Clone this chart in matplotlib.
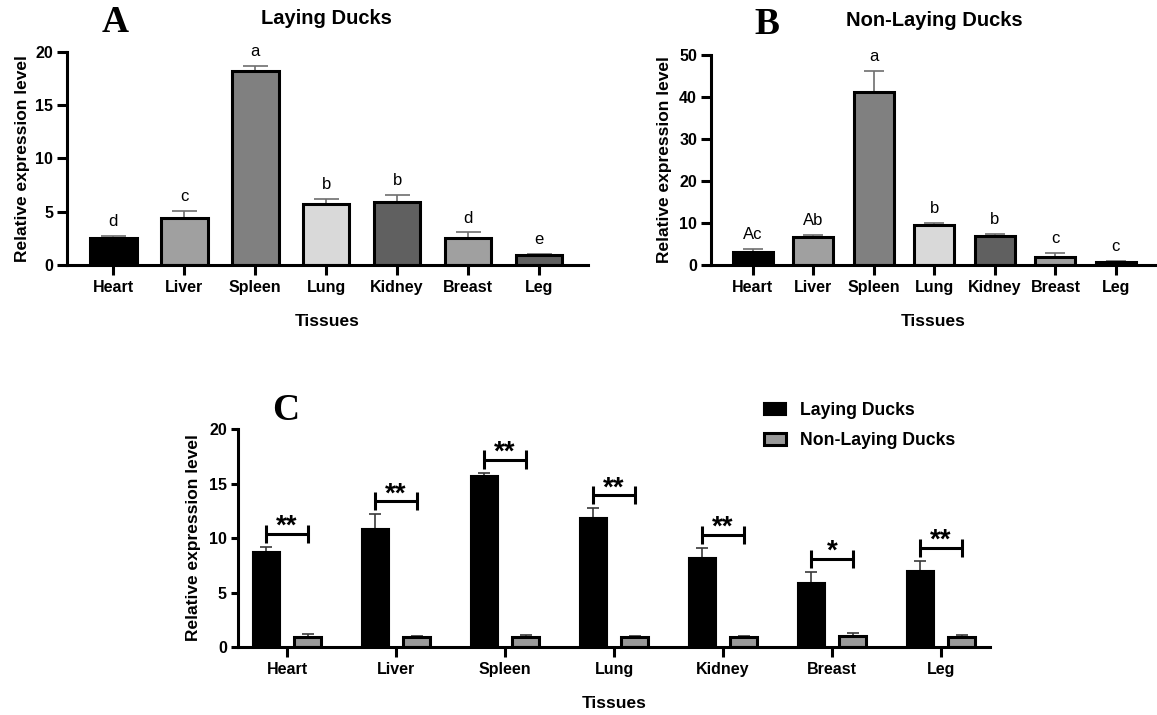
import numpy as np
import matplotlib
matplotlib.use("Agg")
import matplotlib.pyplot as plt
from matplotlib.patches import Patch

# Data
tissues = ["Heart", "Liver", "Spleen", "Lung", "Kidney", "Breast", "Leg"]

laying_mean = [2.57, 4.40, 18.25, 5.70, 5.90, 2.55, 0.90]
laying_sd = [0.15, 0.65, 0.40, 0.50, 0.65, 0.50, 0.17]
laying_letters = ["d", "c", "a", "b", "b", "d", "e"]

nonlaying_mean = [3.15, 6.65, 41.10, 9.45, 6.80, 1.90, 0.65]
nonlaying_sd = [0.65, 0.55, 5.10, 0.55, 0.55, 0.85, 0.30]
nonlaying_letters = ["Ac", "Ab", "a", "b", "b", "c", "c"]

comp_laying_mean = [8.76, 10.81, 15.66, 11.82, 8.18, 5.83, 6.93]
comp_laying_sd = [0.40, 1.37, 0.34, 0.91, 0.89, 1.04, 0.97]
comp_nonlaying_mean = [0.95, 0.95, 0.95, 0.95, 0.92, 0.98, 0.92]
comp_nonlaying_sd = [0.22, 0.06, 0.16, 0.06, 0.12, 0.33, 0.18]
significance = ["**", "**", "**", "**", "**", "*", "**"]

bar_colors = ["#000000", "#a0a0a0", "#808080", "#d9d9d9", "#606060", "#a0a0a0", "#606060"]
bar_colors_b = ["#000000", "#a0a0a0", "#808080", "#d9d9d9", "#606060", "#a0a0a0", "#1a1a1a"]

SANS = "Liberation Sans"
SERIF = "Liberation Serif"
plt.rcParams["font.family"] = [SANS, "DejaVu Sans"]
plt.rcParams["font.weight"] = "bold"

LW = 2.2


def style_axes(ax, yticks, ylim, xlim, ytick_len, labelpad_y):
    for side in ["top", "right"]:
        ax.spines[side].set_visible(False)
    for side in ["left", "bottom"]:
        ax.spines[side].set_linewidth(LW)
    ax.set_xlim(*xlim)
    ax.set_ylim(*ylim)
    ax.set_yticks(yticks)
    ax.set_xticks(np.arange(len(tissues)))
    ax.set_xticklabels(tissues, fontsize=11.5, fontweight="bold")
    ax.tick_params(axis="x", length=7.5, width=LW, pad=3)
    ax.tick_params(axis="y", length=ytick_len, width=LW, pad=3, labelsize=11.5)
    for lab in ax.get_yticklabels():
        lab.set_fontweight("bold")
    ax.set_ylabel("Relative expression level", fontsize=12.5, fontweight="bold",
                  labelpad=labelpad_y)
    ax.set_xlabel("Tissues", fontsize=12.5, fontweight="bold", labelpad=14)


def tissue_panel(ax, means, sds, letters, colors, yticks, ylim, xlim, capsize, labelpad_y):
    x = np.arange(len(tissues))
    ax.errorbar(x, means, yerr=[np.zeros(len(sds)), sds], fmt="none",
                ecolor="#6e6e6e", elinewidth=1.2, capsize=capsize, capthick=1.2,
                zorder=1)
    ax.bar(x, means, width=0.66, color=colors, edgecolor="black",
           linewidth=LW, zorder=2)
    for i, (m, s, t) in enumerate(zip(means, sds, letters)):
        ax.annotate(t, (i, m + s), xytext=(0, 5), textcoords="offset points",
                    ha="center", va="bottom", fontsize=12, fontweight="normal",
                    annotation_clip=False)
    style_axes(ax, yticks, ylim, xlim, 7, labelpad_y)


fig = plt.figure(figsize=(11.57, 7.15), dpi=100)

ax_a = fig.add_axes([0.0579, 0.6294, 0.4503, 0.2979])
tissue_panel(ax_a, laying_mean, laying_sd, laying_letters, bar_colors,
             [0, 5, 10, 15, 20], (0, 20), (-0.65, 6.69), 9, 4)

ax_b = fig.add_axes([0.6145, 0.6294, 0.384, 0.2937])
tissue_panel(ax_b, nonlaying_mean, nonlaying_sd, nonlaying_letters, bar_colors_b,
             [0, 10, 20, 30, 40, 50], (0, 50), (-0.69, 6.65), 7.5, 5)

# Panel C: laying vs non-laying
ax_c = fig.add_axes([0.2057, 0.0951, 0.65, 0.3049])
x = np.arange(len(tissues))
off = 0.19
w = 0.25
ax_c.errorbar(x - off, comp_laying_mean, yerr=[np.zeros(7), comp_laying_sd],
              fmt="none", ecolor="#3a3a3a", elinewidth=1.2, capsize=4.5,
              capthick=1.2, zorder=1)
ax_c.errorbar(x + off, comp_nonlaying_mean, yerr=[np.zeros(7), comp_nonlaying_sd],
              fmt="none", ecolor="#3a3a3a", elinewidth=1.2, capsize=4.5,
              capthick=1.2, zorder=1)
ax_c.bar(x - off, comp_laying_mean, width=w, color="black", edgecolor="black",
         linewidth=1.5, zorder=2, label="Laying Ducks")
ax_c.bar(x + off, comp_nonlaying_mean, width=w, color="#999999", edgecolor="black",
         linewidth=LW, zorder=2, label="Non-Laying Ducks")

# significance brackets between the two bars of each tissue
for i in range(len(tissues)):
    yb = comp_laying_mean[i] + comp_laying_sd[i] + 1.2
    x0, x1 = i - off, i + off
    ax_c.plot([x0, x1], [yb, yb], color="black", lw=LW, solid_capstyle="butt")
    for xv in (x0, x1):
        ax_c.plot([xv, xv], [yb - 0.85, yb + 0.85], color="black", lw=LW,
                  solid_capstyle="butt")
    ax_c.annotate(significance[i], (i, yb), xytext=(0, 0),
                  textcoords="offset points", ha="center", va="baseline",
                  fontsize=20, fontweight="bold", annotation_clip=False)

style_axes(ax_c, [0, 5, 10, 15, 20], (0, 20), (-0.45, 6.45), 5, 6)

handles = [Patch(facecolor="black", edgecolor="black", linewidth=1.5),
           Patch(facecolor="#999999", edgecolor="black", linewidth=LW)]
fig.legend(handles, ["Laying Ducks", "Non-Laying Ducks"], loc="upper left",
           bbox_to_anchor=(764 / 1157, 1 - 402 / 715), frameon=False,
           prop={"family": SANS, "weight": "bold", "size": 12.7},
           handlelength=1.25, handleheight=0.63, handletextpad=0.8,
           labelspacing=0.75, borderpad=0, borderaxespad=0)

# Titles and panel letters
fig.text(326 / 1157, 1 - 18 / 715, "Laying Ducks", ha="center", va="center",
         fontsize=14.5, fontweight="bold")
fig.text(934 / 1157, 1 - 20 / 715, "Non-Laying Ducks", ha="center", va="center",
         fontsize=14.5, fontweight="bold")
for letter, (px, py) in zip(["A", "B", "C"], [(115, 22), (767, 25), (286, 411)]):
    fig.text(px / 1157, 1 - py / 715, letter, ha="center", va="center",
             fontsize=27, fontweight="bold", family=SERIF)

fig.savefig("out.png", dpi=100)
